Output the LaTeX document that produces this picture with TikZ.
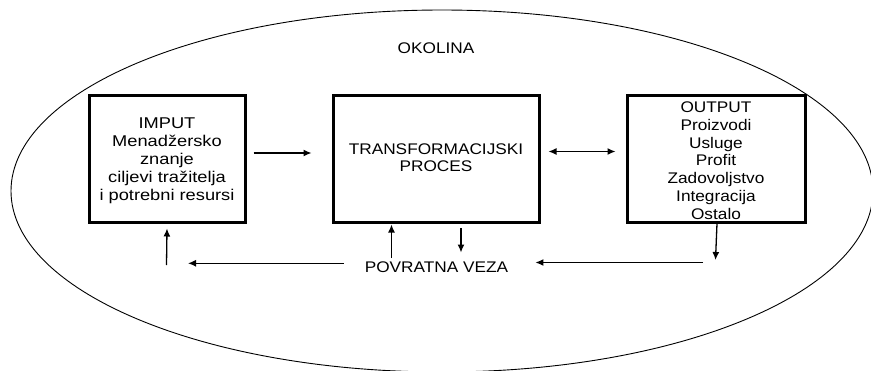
\documentclass[tikz,border=0pt]{standalone}
\usepackage{fontspec}
\setmainfont{Liberation Sans}[FakeStretch=1.12]
\newfontfamily\impfont{Liberation Sans}[FakeStretch=1.17]
\usetikzlibrary{arrows.meta,shapes.geometric}
\newcommand{\blines}[1]{\begin{tabular}{@{}c@{}}#1\end{tabular}}
\tikzset{
  boxnode/.style={draw, line width=3pt, inner sep=0pt},
  txt/.style={inner sep=0pt, font=\fontsize{15.4}{17.8}\selectfont},
  imptxt/.style={inner sep=0pt, font=\impfont\fontsize{15.6}{18.1}\selectfont},
  lbl/.style={inner sep=0pt, font=\fontsize{15.4}{17.8}\selectfont},
  arr/.style={line width=1.3pt, -{Latex[length=8pt,width=7pt]}},
  darr/.style={line width=1.3pt, {Latex[length=8pt,width=7pt]}-{Latex[length=8pt,width=7pt]}},
  env/.style={draw, ellipse, line width=0.9pt, inner sep=0pt}
}
\begin{document}
\begin{tikzpicture}[x=1pt, y=-1pt]
\useasboundingbox (0,0) rectangle (871,370);
\node[env, minimum width=862pt, minimum height=362pt] (okolina) at (442,191) {};
\node[lbl, anchor=base] (oklbl) at (436,53) {OKOLINA};
\node[boxnode, minimum width=156pt, minimum height=127pt] (imput) at (167,158.5) {};
\node[imptxt] (imputtxt) at ([yshift=-2.4pt]imput.center)
  {\blines{IMPUT\\Menadžersko\\znanje\\ciljevi tražitelja\\i potrebni resursi}};
\node[boxnode, minimum width=206pt, minimum height=127pt] (trans) at (436,158.5) {};
\node[txt] (transtxt) at ([yshift=-1pt]trans.center)
  {\blines{TRANSFORMACIJSKI\\PROCES}};
\node[boxnode, minimum width=178pt, minimum height=127pt] (outp) at (716,158.5) {};
\node[txt] (outptxt) at ([yshift=-3.9pt]outp.center)
  {\blines{OUTPUT\\Proizvodi\\Usluge\\Profit\\Zadovoljstvo\\Integracija\\Ostalo}};
\node[lbl, anchor=base] (povr) at (436.5,272) {POVRATNA VEZA};
\coordinate (c1) at (715.5,260);
\coordinate (c2) at (703,262.5);
\coordinate (c3) at (188,263.3);
\coordinate (c4) at (166.5,265);
\coordinate (pe) at ([xshift=27pt]povr.east);
\coordinate (pw) at ([xshift=-21pt]povr.west);
% arrows
\draw[arr] ([xshift=7pt,yshift=5.5pt]imput.east) -- ([xshift=-20pt,yshift=5.5pt]trans.west);
\draw[darr] ([xshift=8pt,yshift=7pt]trans.east) -- ([xshift=-10pt,yshift=7pt]outp.west);
\draw[arr] ([xshift=1pt]outp.south) -- (c1);
\draw[arr] (c2) -- (c2 -| pe);
\draw[arr] (c3 -| pw) -- (c3);
\draw[arr] (c4) -- ([yshift=-5pt]imput.south);
\draw[arr] ([xshift=-44.5pt,yshift=-34.5pt]trans.south) -- ([xshift=-44.5pt,yshift=-1pt]trans.south);
\draw[arr] ([xshift=25pt,yshift=-4.5pt]trans.south) -- ([xshift=25pt,yshift=-29pt]trans.south);
\end{tikzpicture}
\end{document}
